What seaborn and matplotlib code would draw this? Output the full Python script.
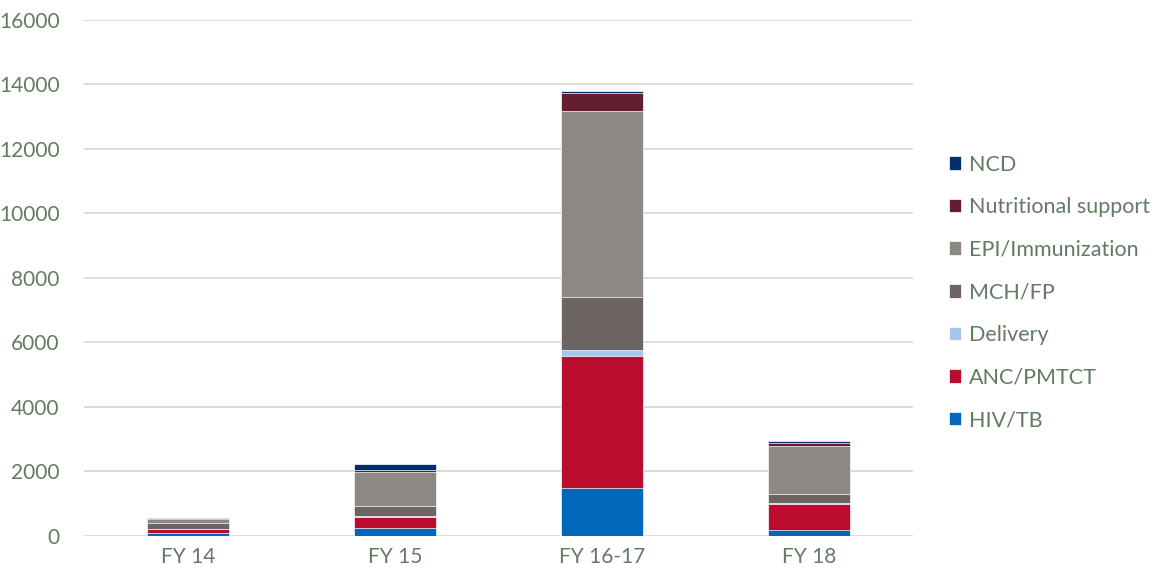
import numpy as np
import pandas as pd
import matplotlib
matplotlib.use('Agg')
import matplotlib.pyplot as plt
import seaborn as sns

years = ['FY 14', 'FY 15', 'FY 16-17', 'FY 18']
# stacking order, bottom to top
categories = ['HIV/TB', 'ANC/PMTCT', 'Delivery', 'MCH/FP', 'EPI/Immunization', 'Nutritional support', 'NCD']
hiv_tb = [80, 257, 1488, 186]
anc_pmtct = [125, 340, 4093, 800]
delivery = [5, 10, 186, 40]
mch_fp = [190, 309, 1644, 290]
epi = [130, 1076, 5767, 1467]
nutrition = [15, 40, 550, 100]
ncd = [5, 200, 80, 50]
colors = ['#0067B9', '#BA0C2F', '#A7C6ED', '#6C6463', '#8C8985', '#651D32', '#002F6C']

sns.set_theme(style='white')
plt.rcParams['font.family'] = ['Lato', 'DejaVu Sans']
text_col = '#647A63'

df = pd.DataFrame({'Year': years})
series = [hiv_tb, anc_pmtct, delivery, mch_fp, epi, nutrition, ncd]
running = np.zeros(len(years))
for name, vals in zip(categories, series):
    running = running + np.array(vals)
    df[name] = running

fig = plt.figure(figsize=(11.73, 5.82), dpi=100)
ax = fig.add_axes([0.072, 0.079, 0.706, 0.887])

# draw cumulative totals from the top layer down so each one covers the next
for name, col in reversed(list(zip(categories, colors))):
    sns.barplot(data=df, x='Year', y=name, color=col, width=0.4, ax=ax,
                label=name, edgecolor='white', linewidth=0.5, saturation=1)

ax.set_ylim(0, 16000)
ax.set_yticks(range(0, 16001, 2000))
ax.yaxis.grid(True, color='#D9D9D9', linewidth=1.3)
ax.set_axisbelow(True)
sns.despine(ax=ax, left=True, bottom=True)
ax.set_xlabel('')
ax.set_ylabel('')
ax.tick_params(axis='both', length=0, labelsize=15, labelcolor=text_col)
ax.tick_params(axis='y', pad=18)
ax.tick_params(axis='x', pad=8)

leg = ax.legend(loc='center left', bbox_to_anchor=(1.02, 0.472), frameon=False,
                fontsize=15.5, labelcolor=text_col, handlelength=0.6, handleheight=0.6,
                handletextpad=0.35, labelspacing=1.05)

fig.savefig('out.png', dpi=100)
